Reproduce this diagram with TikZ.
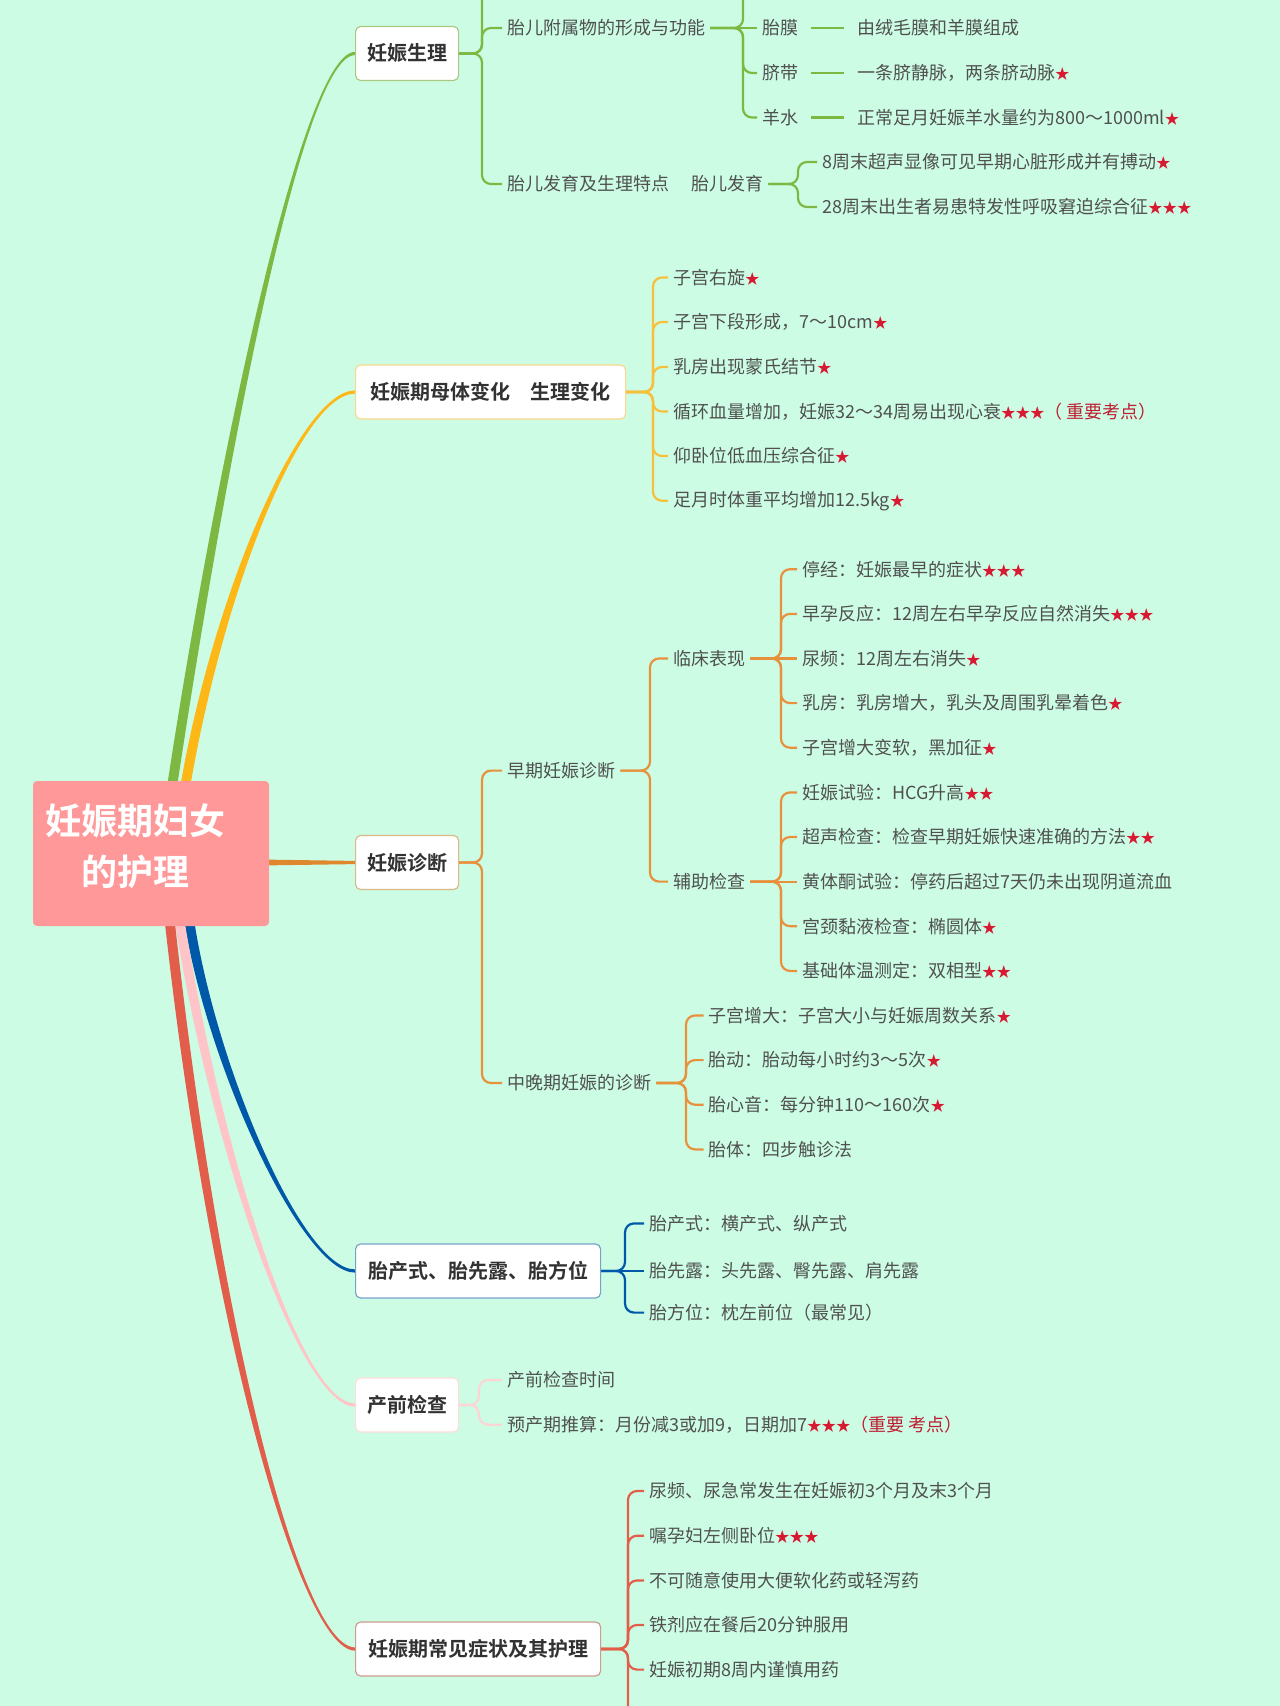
\documentclass[tikz,border=0pt]{standalone}
\usepackage{fontspec}
\newfontfamily\cjk{Noto Sans CJK SC}[BoldFont={Noto Sans CJK SC Bold}]
\usetikzlibrary{calc}
\pgfdeclarelayer{bg}
\pgfsetlayers{bg,main}
\definecolor{bgc}{RGB}{204,253,228}
\definecolor{rootc}{RGB}{255,152,152}
\definecolor{txt}{RGB}{80,80,80}
\definecolor{boxt}{RGB}{50,50,50}
\definecolor{starc}{RGB}{215,25,50}
\definecolor{impc}{RGB}{190,30,50}
\definecolor{cgreen}{RGB}{124,184,66}
\definecolor{cyel}{RGB}{253,183,22}
\definecolor{cyels}{RGB}{246,192,60}
\definecolor{ccop}{RGB}{222,135,45}
\definecolor{ccops}{RGB}{232,145,60}
\definecolor{cblue}{RGB}{0,88,168}
\definecolor{cpink}{RGB}{255,196,200}
\definecolor{cpinks}{RGB}{255,212,212}
\definecolor{cred}{RGB}{226,94,74}
\definecolor{bdgreen}{RGB}{170,200,130}
\definecolor{bdyel}{RGB}{250,215,140}
\definecolor{bdcop}{RGB}{222,185,135}
\definecolor{bdblue}{RGB}{120,160,205}
\definecolor{bdpink}{RGB}{255,220,220}
\definecolor{bdred}{RGB}{205,155,145}
\newcommand\stars[1]{{\color{starc}\fontsize{14.5}{14.5}\selectfont #1}}
\newcommand\imp[1]{{\color{impc}#1}}
\newcommand\brk[4]{\draw[#1] (#2) -- (#2 -| #3) -- (#3 |- #4) -- (#4);}
\newcommand\taper[8]{%
 \fill[#1] ($#2+(#6,0)$) .. controls ($#3+(#6,0)$) and ($#4+(0,-#8)$) .. ($#5+(0,-#8)$)
   -- ($#5+(0,#8)$) .. controls ($#4+(0,#8)$) and ($#3+(#7,0)$) .. ($#2+(#7,0)$) -- cycle;}
\begin{document}
\begin{tikzpicture}[x=1pt,y=-1pt,
 itm/.style={anchor=west, inner xsep=5pt, inner ysep=3pt, text=txt, font=\cjk\fontsize{18}{22}\selectfont},
 bx/.style={draw=#1, fill=white, rounded corners=5pt, line width=1.2pt, minimum height=54pt, anchor=west, inner xsep=8pt, text=boxt, font=\cjk\bfseries\fontsize{20}{24}\selectfont},
 rootbox/.style={fill=rootc, rounded corners=4pt, minimum width=236pt, minimum height=145pt, text=white, font=\cjk\bfseries\fontsize{36}{51}\selectfont},
 lk/.style={draw=#1, line width=2.2pt, rounded corners=9pt},
 dash2/.style={draw=#1, line width=2.2pt, shorten <=8pt, shorten >=8pt}]
\useasboundingbox (0,0) rectangle (1280,1706);
% root
\node[rootbox] (root) at (151,853.5) {\raisebox{-3pt}[0pt][0pt]{\makebox[0pt]{\hspace*{-32pt}\begin{tabular}{@{}c@{}}妊娠期妇女\\的护理\end{tabular}}}};
% main boxes
\node[bx=bdgreen, minimum width=103pt] (b1) at (355,53.5) {妊娠生理};
\node[bx=bdyel, minimum width=270pt] (b2) at (355,392) {妊娠期母体变化　生理变化};
\node[bx=bdcop, minimum width=103pt] (b3) at (355,862.5) {妊娠诊断};
\node[bx=bdblue, minimum width=245pt] (b4) at (355,1271) {胎产式、胎先露、胎方位};
\node[bx=bdpink, minimum width=103pt] (b5) at (355,1405) {产前检查};
\node[bx=bdred, minimum width=245pt] (b6) at (355,1649) {妊娠期常见症状及其护理};
% branch 1
\node[itm] (n1a) at (502,28) {胎儿附属物的形成与功能};
\node[itm] (n1a1) at (757,28) {胎膜};
\node[itm] (n1a2) at (757,73) {脐带};
\node[itm] (n1a3) at (757,117.5) {羊水};
\node[itm] (d1a1) at (852,28) {由绒毛膜和羊膜组成};
\node[itm] (d1a2) at (852,73) {一条脐静脉，两条脐动脉\stars{★}};
\node[itm] (d1a3) at (852,117.5) {正常足月妊娠羊水量约为800～1000ml\stars{★}};
\node[itm] (n1b) at (502,184) {胎儿发育及生理特点};
\node[itm] (n1c) at (686,184) {胎儿发育};
\node[itm] (n1c1) at (817,162) {8周末超声显像可见早期心脏形成并有搏动\stars{★}};
\node[itm] (n1c2) at (817,207) {28周末出生者易患特发性呼吸窘迫综合征\stars{★★★}};
% branch 2
\node[itm] (n2a) at (668,277.5) {子宫右旋\stars{★}};
\node[itm] (n2b) at (668,322) {子宫下段形成，7～10cm\stars{★}};
\node[itm] (n2c) at (668,367) {乳房出现蒙氏结节\stars{★}};
\node[itm] (n2d) at (668,411.5) {循环血量增加，妊娠32～34周易出现心衰\stars{★★★}\imp{（ 重要考点）}};
\node[itm] (n2e) at (668,456) {仰卧位低血压综合征\stars{★}};
\node[itm] (n2f) at (668,500.7) {足月时体重平均增加12.5kg\stars{★}};
% branch 3
\node[itm] (n3a) at (502,770.6) {早期妊娠诊断};
\node[itm] (n3b) at (502,1083) {中晚期妊娠的诊断};
\node[itm] (n3a1) at (668,658.5) {临床表现};
\node[itm] (n3a2) at (668,881.6) {辅助检查};
\node[itm] (k1) at (797,569.2) {停经：妊娠最早的症状\stars{★★★}};
\node[itm] (k2) at (797,613.9) {早孕反应：12周左右早孕反应自然消失\stars{★★★}};
\node[itm] (k3) at (797,658.5) {尿频：12周左右消失\stars{★}};
\node[itm] (k4) at (797,703.1) {乳房：乳房增大，乳头及周围乳晕着色\stars{★}};
\node[itm] (k5) at (797,747.7) {子宫增大变软，黑加征\stars{★}};
\node[itm] (f1) at (797,792.4) {妊娠试验：HCG升高\stars{★★}};
\node[itm] (f2) at (797,837) {超声检查：检查早期妊娠快速准确的方法\stars{★★}};
\node[itm] (f3) at (797,881.6) {黄体酮试验：停药后超过7天仍未出现阴道流血};
\node[itm] (f4) at (797,926.2) {宫颈黏液检查：椭圆体\stars{★}};
\node[itm] (f5) at (797,970.9) {基础体温测定：双相型\stars{★★}};
\node[itm] (m1) at (703.5,1015.5) {子宫增大：子宫大小与妊娠周数关系\stars{★}};
\node[itm] (m2) at (703.5,1060.1) {胎动：胎动每小时约3～5次\stars{★}};
\node[itm] (m3) at (703.5,1104.7) {胎心音：每分钟110～160次\stars{★}};
\node[itm] (m4) at (703.5,1149.4) {胎体：四步触诊法};
% branch 4
\node[itm] (n4a) at (644,1223.4) {胎产式：横产式、纵产式};
\node[itm] (n4b) at (644,1271) {胎先露：头先露、臀先露、肩先露};
\node[itm] (n4c) at (644,1312.6) {胎方位：枕左前位（最常见）};
% branch 5
\node[itm] (n5a) at (502,1380) {产前检查时间};
\node[itm] (n5b) at (502,1424.7) {预产期推算：月份减3或加9，日期加7\stars{★★★}\imp{（重要 考点）}};
% branch 6
\node[itm] (n6a) at (644,1491) {尿频、尿急常发生在妊娠初3个月及末3个月};
\node[itm] (n6b) at (644,1535.7) {嘱孕妇左侧卧位\stars{★★★}};
\node[itm] (n6c) at (644,1580.4) {不可随意使用大便软化药或轻泻药};
\node[itm] (n6d) at (644,1625) {铁剂应在餐后20分钟服用};
\node[itm] (n6e) at (644,1669.6) {妊娠初期8周内谨慎用药};
% coordinates
\coordinate (sB1) at (482,0);
\coordinate (sA) at (743,0);
\coordinate (sC) at (798,0);
\coordinate (sB2) at (653,0);
\coordinate (sE) at (650,0);
\coordinate (sK) at (781,0);
\coordinate (sM) at (686,0);
\coordinate (sB4) at (625,0);
\coordinate (sB5) at (479,0);
\coordinate (sB6) at (628,0);
\coordinate (up1) at (502,-40);
\coordinate (up2) at (757,-40);
\coordinate (dn1) at (644,1760);
\coordinate (rg) at (170,800);
\coordinate (ro) at (183,800);
\coordinate (rb) at (187,905);
\coordinate (rp) at (177,905);
\coordinate (rr) at (168,905);
\begin{pgfonlayer}{bg}
\fill[bgc] (0,0) rectangle (1280,1706);
% main tapered branches
\taper{cgreen}{(rg)}{(215,500)}{(300,53.5)}{(b1.west)}{-5}{5}{1.6}
\taper{cyel}{(ro)}{(215,600)}{(300,392)}{(b2.west)}{-5}{5}{1.6}
\taper{cblue}{(rb)}{(205,1050)}{(300,1271)}{(b4.west)}{5}{-5}{1.6}
\taper{cpink}{(rp)}{(215,1150)}{(300,1405)}{(b5.west)}{5}{-5}{1.6}
\taper{cred}{(rr)}{(212,1320)}{(300,1649)}{(b6.west)}{5}{-5}{1.6}
\fill[ccop] ($(root.east|-b3.west)+(-10,-3)$) -- ($(b3.west)+(0,-1.6)$) -- ($(b3.west)+(0,1.6)$) -- ($(root.east|-b3.west)+(-10,3)$) -- cycle;
% branch 1
\brk{lk=cgreen}{b1.east}{sB1}{up1}
\brk{lk=cgreen}{b1.east}{sB1}{n1a.west}
\brk{lk=cgreen}{b1.east}{sB1}{n1b.west}
\brk{lk=cgreen}{n1a.east}{sA}{up2}
\draw[lk=cgreen] (n1a.east) -- (n1a1.west);
\brk{lk=cgreen}{n1a.east}{sA}{n1a2.west}
\brk{lk=cgreen}{n1a.east}{sA}{n1a3.west}
\draw[dash2=cgreen] (n1a1.east) -- (d1a1.west);
\draw[dash2=cgreen] (n1a2.east) -- (d1a2.west);
\draw[dash2=cgreen] (n1a3.east) -- (d1a3.west);
\brk{lk=cgreen}{n1c.east}{sC}{n1c1.west}
\brk{lk=cgreen}{n1c.east}{sC}{n1c2.west}
% branch 2
\foreach \c in {n2a,n2b,n2c,n2d,n2e,n2f}{\brk{lk=cyels}{b2.east}{sB2}{\c.west}}
% branch 3
\brk{lk=ccops}{b3.east}{sB1}{n3a.west}
\brk{lk=ccops}{b3.east}{sB1}{n3b.west}
\brk{lk=ccops}{n3a.east}{sE}{n3a1.west}
\brk{lk=ccops}{n3a.east}{sE}{n3a2.west}
\foreach \c in {k1,k2,k4,k5}{\brk{lk=ccops}{n3a1.east}{sK}{\c.west}}
\draw[lk=ccops] (n3a1.east) -- (k3.west);
\foreach \c in {f1,f2,f4,f5}{\brk{lk=ccops}{n3a2.east}{sK}{\c.west}}
\draw[lk=ccops] (n3a2.east) -- (f3.west);
\foreach \c in {m1,m2,m3,m4}{\brk{lk=ccops}{n3b.east}{sM}{\c.west}}
% branch 4
\brk{lk=cblue}{b4.east}{sB4}{n4a.west}
\draw[lk=cblue] (b4.east) -- (n4b.west);
\brk{lk=cblue}{b4.east}{sB4}{n4c.west}
% branch 5
\brk{lk=cpinks}{b5.east}{sB5}{n5a.west}
\brk{lk=cpinks}{b5.east}{sB5}{n5b.west}
% branch 6
\foreach \c in {n6a,n6b,n6c,n6d,n6e}{\brk{lk=cred}{b6.east}{sB6}{\c.west}}
\brk{lk=cred}{b6.east}{sB6}{dn1}
\end{pgfonlayer}
\end{tikzpicture}
\end{document}
